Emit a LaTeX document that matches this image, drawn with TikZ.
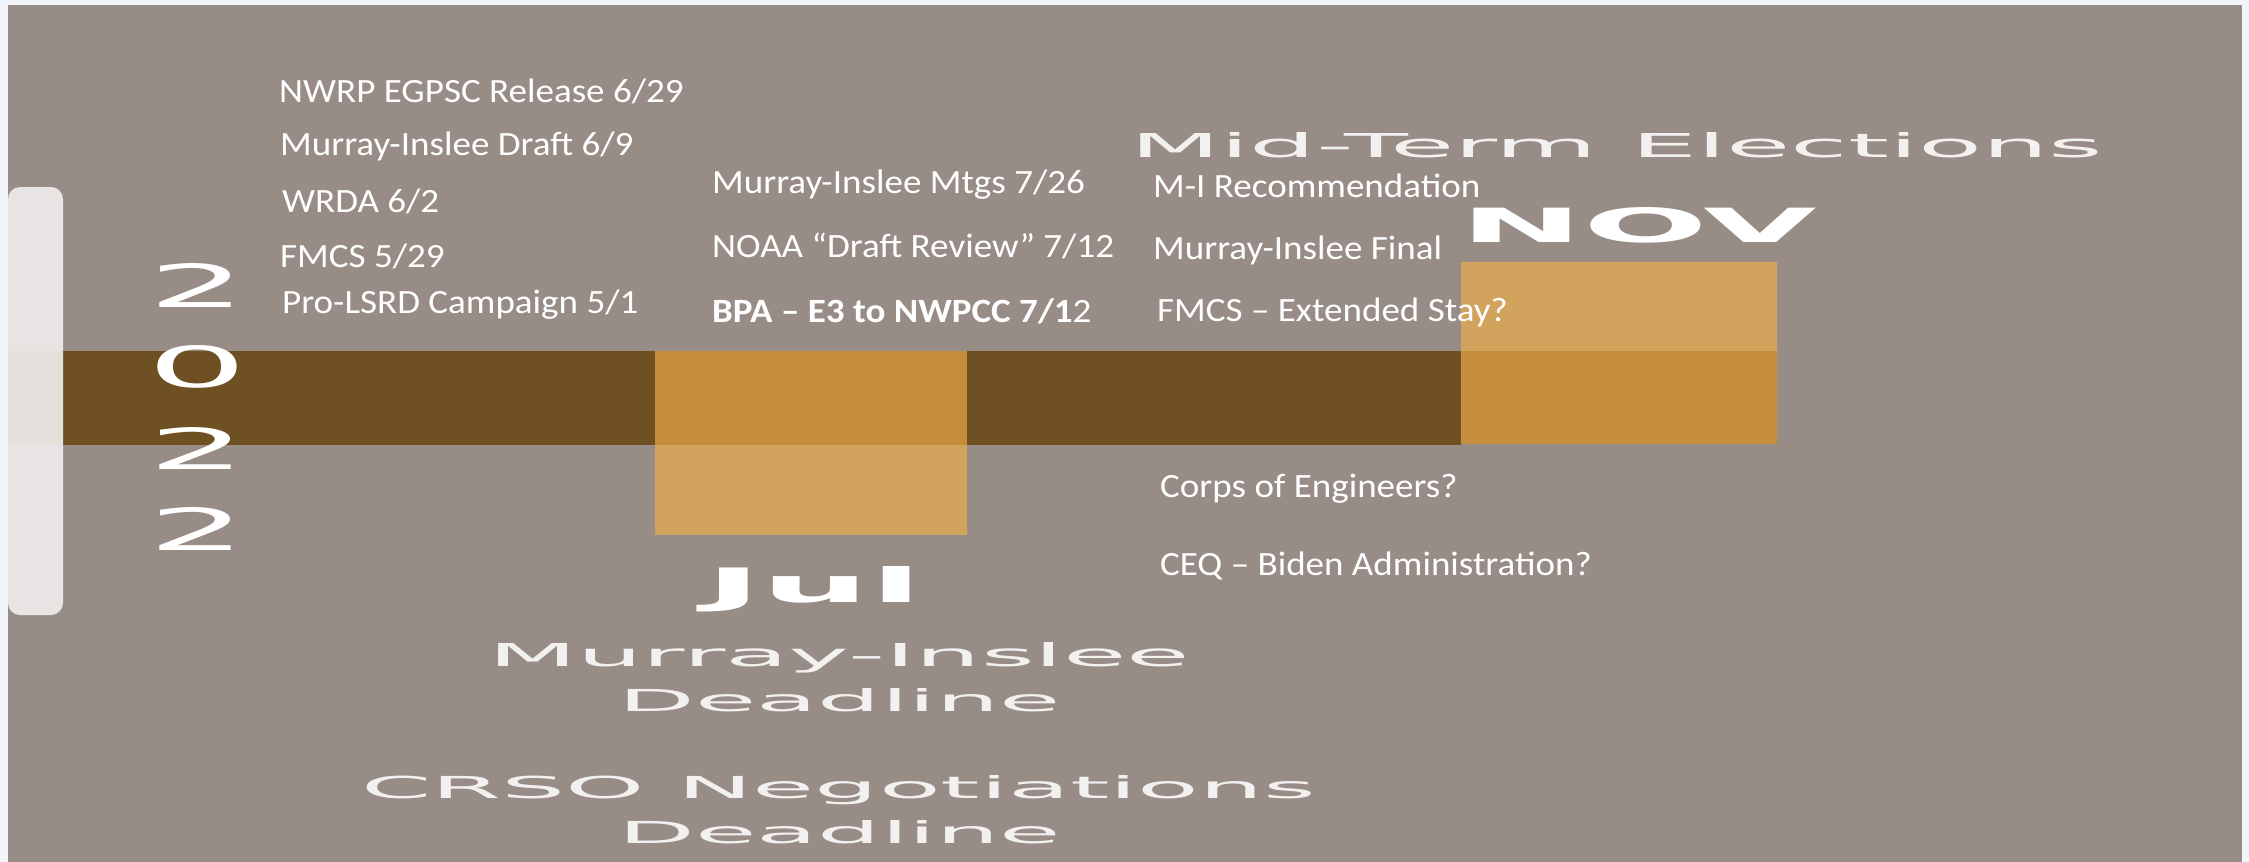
\documentclass[tikz,border=0pt]{standalone}
\usepackage{fontspec}
\setmainfont{Carlito}
\newfontfamily\evtfont[FakeStretch=1.09]{Carlito}
\newfontfamily\widefont{DejaVu Sans}
\usetikzlibrary{positioning}
\definecolor{bgout}{HTML}{F1F5F9}
\definecolor{panel}{HTML}{988C87}
\definecolor{barbrown}{HTML}{6E5022}
\definecolor{ordark}{HTML}{C48E3C}
\definecolor{orlight}{HTML}{D2A35C}
\definecolor{pillcol}{HTML}{EDEBEA}
\tikzset{
  evt/.style={anchor=base west, inner sep=0pt, text=white, font=\evtfont\fontsize{34}{40}\selectfont},
  big/.style={anchor=base west, inner sep=0pt, text=white, font=\widefont\fontsize{40}{48}\selectfont},
  bigsoft/.style={big, text=white, text opacity=0.88},
}
\begin{document}
\begin{tikzpicture}[x=1pt,y=-1pt]
\useasboundingbox (0,0) rectangle (2249,862);
\fill[bgout] (0,0) rectangle (2249,862);
\fill[panel] (8,5) rectangle (2242,862);
% timeline bar and month boxes
\fill[barbrown] (8,351) rectangle (1461,445);
\fill[ordark] (655,351) rectangle (967,445);
\fill[orlight] (655,445) rectangle (967,535);
\fill[orlight] (1461,262) rectangle (1777,351);
\fill[ordark] (1461,351) rectangle (1777,444);
% year pill
\fill[pillcol, opacity=0.93, rounded corners=12] (8,187) rectangle (63,615);
% year digits
\node[big, anchor=base] (y1) at (198,307) {\resizebox{98pt}{44pt}{2}};
\node[big, anchor=base] (y2) at (198,387) {\resizebox{100pt}{42pt}{0}};
\node[big, anchor=base] (y3) at (198,469) {\resizebox{98pt}{42pt}{2}};
\node[big, anchor=base] (y4) at (198,550) {\resizebox{98pt}{43pt}{2}};
% left column
\node[evt] (e1) at (279,102) {NWRP EGPSC Release 6/29};
\node[evt] (e2) at (280,155) {Murray-Inslee Draft 6/9};
\node[evt] (e3) at (282,212) {WRDA 6/2};
\node[evt] (e4) at (280,267) {FMCS 5/29};
\node[evt] (e5) at (282,313) {Pro-LSRD Campaign 5/1};
% middle column
\node[evt] (m1) at (712,193) {Murray-Inslee Mtgs 7/26};
\node[evt] (m2) at (712,257) {NOAA “Draft Review” 7/12};
\node[evt] (m3) at (712,322) {{\bfseries BPA – E3 to NWPCC 7/1}2};
% right column
\node[evt] (r1) at (1153,197) {M-I Recommendation};
\node[evt] (r2) at (1153,259) {Murray-Inslee Final};
\node[evt] (r3) at (1157,321) {FMCS – Extended Stay?};
\node[evt] (r4) at (1160,497) {Corps of Engineers?};
\node[evt] (r5) at (1160,575) {CEQ – Biden Administration?};
% big labels
\node[bigsoft] (mid) at (1130,157) {\resizebox{973pt}{25pt}{Mid-Term Elections}};
\node[big] (nov) at (1460,242) {\resizebox{357pt}{35pt}{\bfseries NOV}};
\node[big] (jul) at (705,602) {\resizebox{217pt}{36pt}{\bfseries Jul}};
\node[bigsoft] (mi) at (488,666) {\resizebox{702pt}{24pt}{Murray-Inslee}};
\node[bigsoft] (dl1) at (618,711) {\resizebox{443pt}{23pt}{Deadline}};
\node[bigsoft] (crso) at (361,798) {\resizebox{955pt}{23pt}{CRSO Negotiations}};
\node[bigsoft] (dl2) at (618,843) {\resizebox{443pt}{23pt}{Deadline}};
\end{tikzpicture}
\end{document}
